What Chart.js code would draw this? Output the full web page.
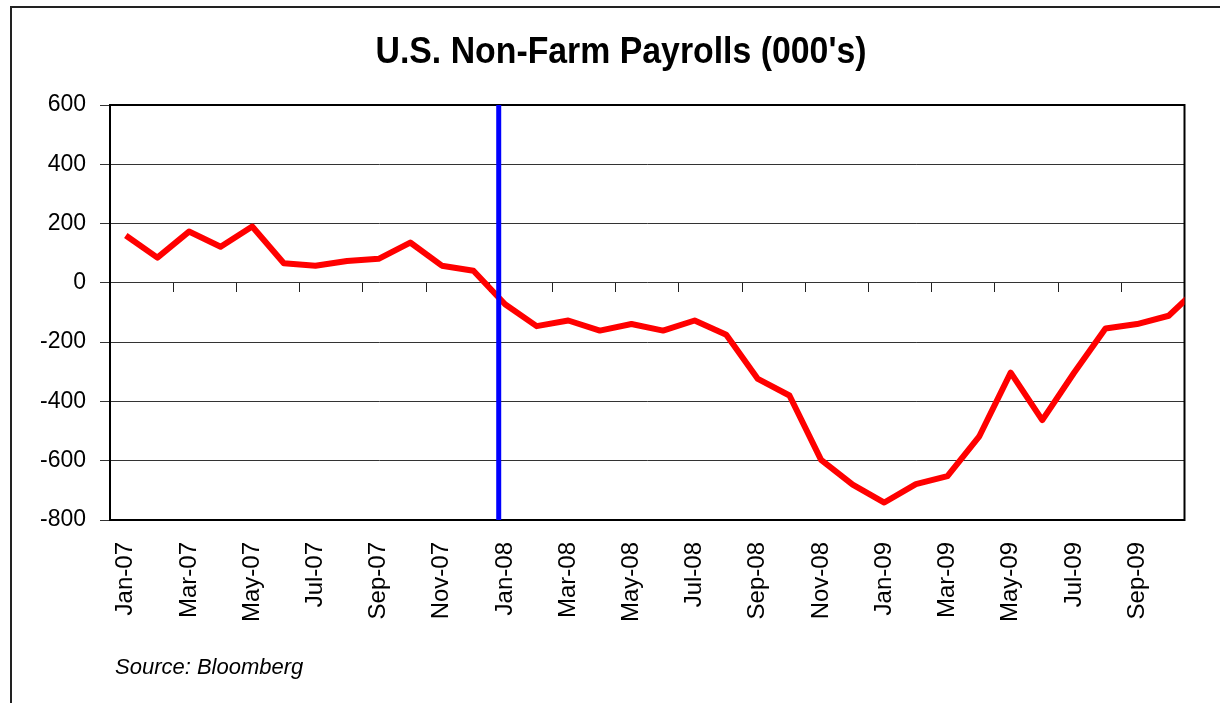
<!DOCTYPE html>
<html>
<head>
<meta charset="utf-8">
<title>U.S. Non-Farm Payrolls</title>
<script src="https://cdn.jsdelivr.net/npm/chart.js@4.4.1/dist/chart.umd.min.js"></script>
<style>
  html, body { margin: 0; padding: 0; background: #fff; }
  #wrap { position: relative; width: 1220px; height: 703px; overflow: hidden; }
  #frame { position: absolute; left: 10px; top: 6px; width: 1300px; height: 800px;
           border-left: 2px solid #222; border-top: 2px solid #222; }
  #payrollChart { position: absolute; left: 0; top: 0; }
</style>
</head>
<body>
<div id="wrap">
  <div id="frame"></div>
  <canvas id="payrollChart" width="1220" height="703"></canvas>
</div>
<script>
// Monthly change in U.S. non-farm payrolls, thousands
const months = [
  'Jan-07', 'Feb-07', 'Mar-07', 'Apr-07', 'May-07', 'Jun-07', 'Jul-07', 'Aug-07', 'Sep-07', 'Oct-07', 'Nov-07', 'Dec-07',
  'Jan-08', 'Feb-08', 'Mar-08', 'Apr-08', 'May-08', 'Jun-08', 'Jul-08', 'Aug-08', 'Sep-08', 'Oct-08', 'Nov-08', 'Dec-08',
  'Jan-09', 'Feb-09', 'Mar-09', 'Apr-09', 'May-09', 'Jun-09', 'Jul-09', 'Aug-09', 'Sep-09', 'Oct-09', 'Nov-09'
];
const payrolls = [
  160, 85, 173, 122, 190, 66, 58, 74, 81, 136, 58, 41,
  -72, -146, -127, -161, -139, -161, -127, -175, -324, -380, -597, -681,
  -741, -679, -652, -519, -303, -463, -304, -154, -139, -111, -11
];
// the axis stops at Oct-09; the Nov-09 segment runs off the plot edge
const lastShownMonth = 'Oct-09';
const yTicks = [-800, -600, -400, -200, 0, 200, 400, 600];

// vertical marker (start of recession), drawn between Dec-07 and Jan-08
const markerMonth = 'Dec-07';
const markerFraction = 0.8;

const TITLE = "U.S. Non-Farm Payrolls (000's)";
const SOURCE = 'Source: Bloomberg';

const FONT = 'Liberation Sans, Arial, Helvetica, sans-serif';
Chart.defaults.font.family = FONT;
Chart.defaults.color = '#000';

function cutAtLastMonth(scale) {
  scale.max = months.indexOf(lastShownMonth);
}

// plot frame (top and right edges)
const frameBox = {
  id: 'frameBox',
  beforeDatasetsDraw(chart) {
    const { ctx, chartArea: a } = chart;
    ctx.save();
    ctx.strokeStyle = '#000';
    ctx.lineWidth = 2;
    ctx.strokeRect(a.left, a.top, a.right - a.left, a.bottom - a.top);
    ctx.restore();
  }
};

const markerLine = {
  id: 'markerLine',
  afterDatasetsDraw(chart) {
    const { ctx, chartArea: a } = chart;
    const xs = chart.scales.x;
    const i = months.indexOf(markerMonth);
    const x = xs.getPixelForValue(i) + markerFraction * (xs.getPixelForValue(i + 1) - xs.getPixelForValue(i));
    ctx.save();
    ctx.strokeStyle = '#0000FF';
    ctx.lineWidth = 5;
    ctx.beginPath();
    ctx.moveTo(x, a.top);
    ctx.lineTo(x, a.bottom);
    ctx.stroke();
    ctx.restore();
  }
};

// title (slightly condensed like the original) and source note
const texts = {
  id: 'texts',
  afterDraw(chart) {
    const { ctx, chartArea: a } = chart;
    ctx.save();
    ctx.fillStyle = '#000';
    ctx.textBaseline = 'alphabetic';
    ctx.font = 'bold 37px ' + FONT;
    ctx.textAlign = 'center';
    ctx.translate(621, 63);
    ctx.scale(0.914, 1);
    ctx.fillText(TITLE, 0, 0);
    ctx.restore();

    ctx.save();
    ctx.fillStyle = '#000';
    ctx.font = 'italic 22px ' + FONT;
    ctx.textBaseline = 'alphabetic';
    ctx.textAlign = 'left';
    ctx.fillText(SOURCE, a.left + 5, a.bottom + 154);
    ctx.restore();
  }
};

const ctx = document.getElementById('payrollChart').getContext('2d');
new Chart(ctx, {
  type: 'line',
  data: {
    labels: months,
    datasets: [{
      label: 'Non-Farm Payrolls',
      data: payrolls,
      borderColor: '#FF0000',
      borderWidth: 6,
      pointRadius: 0,
      tension: 0,
      borderJoinStyle: 'round',
      clip: 0
    }]
  },
  options: {
    responsive: false,
    animation: false,
    layout: { padding: { left: 0, right: 34, top: 105, bottom: 63 } },
    plugins: {
      legend: { display: false },
      tooltip: { enabled: false },
      title: { display: false }
    },
    scales: {
      x: {
        type: 'category',
        offset: true,
        afterDataLimits: cutAtLastMonth,
        grid: { drawOnChartArea: false, drawTicks: false },
        border: { display: true, color: '#000', width: 2 },
        ticks: {
          autoSkip: false,
          minRotation: 90,
          maxRotation: 90,
          padding: 22,
          font: { size: 24 },
          color: '#000',
          callback: function (value, index) {
            return index % 2 === 0 ? this.getLabelForValue(value) : '';
          }
        },
        afterFit(scale) { scale.height = 120; }
      },
      xZero: {
        type: 'category',
        axis: 'x',
        position: { y: 0 },
        offset: true,
        afterDataLimits: cutAtLastMonth,
        ticks: { display: false },
        border: { display: false },
        grid: {
          offset: true,
          drawOnChartArea: false,
          drawTicks: true,
          tickLength: 9,
          lineWidth: 1,
          color: (c) => (c.index % 2 === 0 ? '#222' : 'rgba(0,0,0,0)')
        }
      },
      y: {
        min: yTicks[0],
        max: yTicks[yTicks.length - 1],
        afterBuildTicks(scale) { scale.ticks = yTicks.map(v => ({ value: v })); },
        grid: { color: '#333', lineWidth: 1, tickLength: 10 },
        border: { color: '#000', width: 2 },
        ticks: { font: { size: 23 }, color: '#000', padding: 14 },
        afterFit(scale) { scale.width = 110; }
      }
    }
  },
  plugins: [frameBox, markerLine, texts]
});
</script>
</body>
</html>
